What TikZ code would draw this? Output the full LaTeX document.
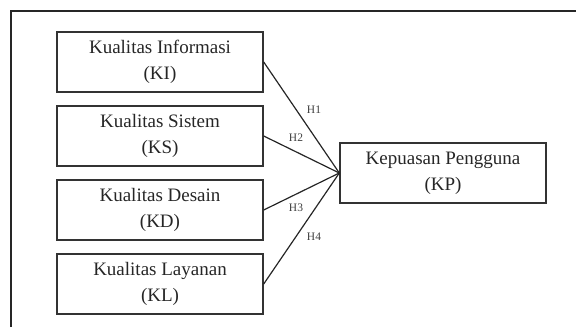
\documentclass[tikz,border=0pt]{standalone}
\usepackage{fontspec}
\setmainfont{Liberation Serif}
\begin{document}
\begin{tikzpicture}[x=1pt,y=-1pt,
  varbox/.style={draw=black!80,line width=1.4pt,minimum width=206pt,minimum height=60pt,inner sep=0pt,align=center,font=\fontsize{19}{26}\selectfont,text=black!85},
  link/.style={draw=black!85,line width=1.2pt},
  hlab/.style={font=\fontsize{11.5}{11.5}\selectfont,text=black!75,inner sep=0pt}]
\useasboundingbox (0,0) rectangle (576,327);
\draw[line width=1.6pt,black!85] (11,327) -- (11,11) -- (576,11);
\node[varbox] (ki) at (160,62) {Kualitas Informasi\\(KI)};
\node[varbox] (ks) at (160,136) {Kualitas Sistem\\(KS)};
\node[varbox] (kd) at (160,210) {Kualitas Desain\\(KD)};
\node[varbox] (kl) at (160,284) {Kualitas Layanan\\(KL)};
\node[varbox] (kp) at (443,173) {Kepuasan Pengguna\\(KP)};
\draw[link] (ki.east) -- (kp.west);
\draw[link] (ks.east) -- (kp.west);
\draw[link] (kd.east) -- (kp.west);
\draw[link] (kl.east) -- (kp.west);
\node[hlab] (h1) at (314,110) {H1};
\node[hlab] (h2) at (296,138) {H2};
\node[hlab] (h3) at (296,208) {H3};
\node[hlab] (h4) at (314,237) {H4};
\end{tikzpicture}
\end{document}
